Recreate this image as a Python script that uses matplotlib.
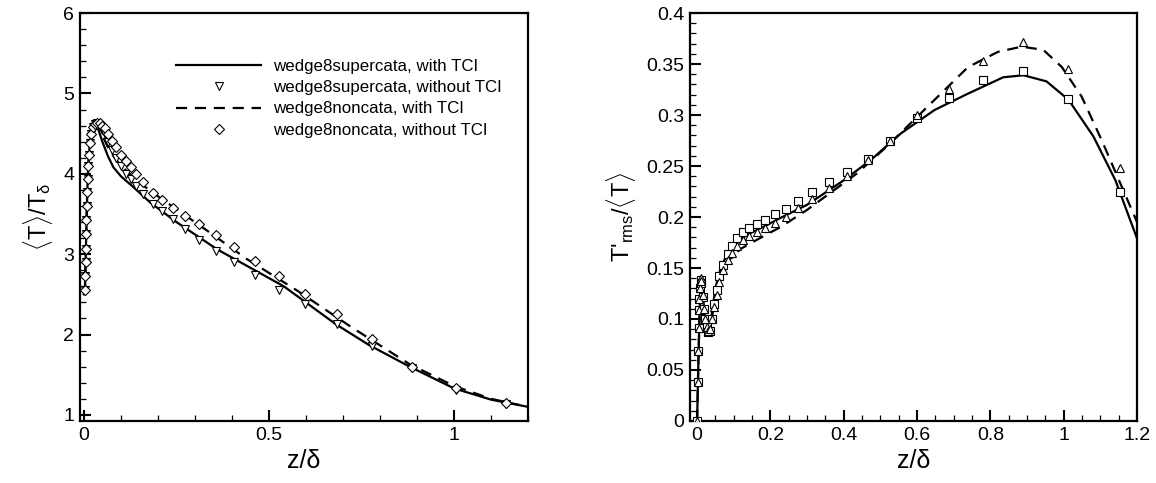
import matplotlib
matplotlib.use("Agg")
import matplotlib.pyplot as plt
from matplotlib.ticker import MultipleLocator

plt.rcParams['font.family'] = ['Liberation Sans', 'DejaVu Sans']
plt.rcParams['mathtext.fontset'] = 'custom'
plt.rcParams['mathtext.rm'] = 'Liberation Sans'
plt.rcParams['mathtext.it'] = 'Liberation Sans:italic'

# ---------------- Left panel data: <T>/T_delta ----------------
zL_solid = [0, 0.003, 0.005, 0.007, 0.009, 0.012, 0.016, 0.02, 0.025, 0.03, 0.035, 0.04,
            0.05, 0.065, 0.08, 0.1, 0.13, 0.18, 0.25, 0.36, 0.45, 0.54, 0.68, 0.77, 0.88,
            1.0, 1.1, 1.2]
TL_solid = [2.5, 2.55, 2.95, 3.35, 3.75, 4.1, 4.38, 4.5, 4.58, 4.62, 4.6, 4.54,
            4.4, 4.22, 4.08, 3.97, 3.85, 3.64, 3.40, 3.06, 2.83, 2.6, 2.13, 1.87, 1.6,
            1.33, 1.19, 1.1]

zL_dash = [0, 0.003, 0.005, 0.007, 0.009, 0.012, 0.016, 0.02, 0.025, 0.03, 0.035, 0.04,
           0.05, 0.07, 0.1, 0.15, 0.2, 0.25, 0.34, 0.44, 0.575, 0.72, 0.88, 1.0,
           1.1, 1.2]
TL_dash = [2.5, 2.55, 2.95, 3.35, 3.75, 4.1, 4.38, 4.5, 4.58, 4.62, 4.62, 4.58,
           4.48, 4.28, 4.1, 3.89, 3.72, 3.56, 3.27, 2.94, 2.55, 2.1, 1.63, 1.36,
           1.2, 1.1]

zL_near = [0.003, 0.004, 0.005, 0.005, 0.006, 0.007, 0.008, 0.009, 0.011, 0.012, 0.014,
           0.016, 0.02, 0.025, 0.03, 0.035]
TL_near = [2.55, 2.73, 2.9, 3.07, 3.25, 3.43, 3.6, 3.77, 3.94, 4.1, 4.24,
           4.38, 4.5, 4.58, 4.62, 4.63]

zL_pts = [0.043, 0.05, 0.057, 0.066, 0.077, 0.088, 0.1, 0.114, 0.126, 0.141, 0.16,
          0.186, 0.212, 0.24, 0.274, 0.312, 0.357, 0.406, 0.463, 0.526, 0.598,
          0.683, 0.778, 0.885, 1.005, 1.14]
TL_diam = [4.63, 4.6, 4.57, 4.49, 4.41, 4.33, 4.24, 4.16, 4.08, 4.0, 3.9,
           3.76, 3.67, 3.58, 3.48, 3.37, 3.24, 3.09, 2.92, 2.73, 2.5,
           2.25, 1.94, 1.6, 1.33, 1.15]
TL_tri = [4.6, 4.55, 4.49, 4.4, 4.3, 4.2, 4.1, 4.0, 3.93, 3.85, 3.75,
          3.63, 3.54, 3.44, 3.31, 3.18, 3.04, 2.9, 2.74, 2.56, 2.38,
          2.13, 1.86, 1.58, 1.31, 1.14]

# ---------------- Right panel data: T'rms/<T> ----------------
zR_solid = [0, 0.003, 0.006, 0.009, 0.012, 0.015, 0.02, 0.025, 0.03, 0.035, 0.04, 0.05,
            0.06, 0.07, 0.085, 0.1, 0.12, 0.15, 0.19, 0.227, 0.3, 0.346, 0.4, 0.474,
            0.556, 0.648, 0.739, 0.835, 0.89, 0.953, 1.013, 1.081, 1.141, 1.2]
TR_solid = [0, 0.05, 0.095, 0.125, 0.14, 0.13, 0.105, 0.09, 0.085, 0.09, 0.105, 0.13,
            0.145, 0.155, 0.165, 0.172, 0.179, 0.185, 0.192, 0.199, 0.212, 0.223, 0.236, 0.256,
            0.282, 0.305, 0.321, 0.337, 0.339, 0.333, 0.315, 0.279, 0.236, 0.179]

zR_dash = [0, 0.003, 0.006, 0.009, 0.012, 0.015, 0.02, 0.025, 0.03, 0.035, 0.04, 0.05,
           0.06, 0.07, 0.085, 0.1, 0.12, 0.15, 0.19, 0.227, 0.3, 0.437, 0.52, 0.611,
           0.739, 0.821, 0.885, 0.944, 0.995, 1.049, 1.104, 1.2]
TR_dash = [0, 0.05, 0.095, 0.125, 0.138, 0.128, 0.103, 0.09, 0.086, 0.09, 0.1, 0.122,
           0.137, 0.148, 0.157, 0.163, 0.169, 0.175, 0.183, 0.19, 0.207, 0.243, 0.27, 0.302,
           0.347, 0.362, 0.367, 0.364, 0.347, 0.318, 0.275, 0.195]

zR_pts = [0.0, 0.002, 0.003, 0.004, 0.005, 0.006, 0.008, 0.01, 0.012, 0.015, 0.018,
          0.022, 0.026, 0.031, 0.036, 0.042, 0.047, 0.054, 0.061, 0.072, 0.083, 0.095,
          0.109, 0.124, 0.142, 0.164, 0.186, 0.212, 0.243, 0.276, 0.314, 0.36, 0.408,
          0.465, 0.527, 0.6, 0.687, 0.78, 0.89, 1.013, 1.153]
TR_sq = [0.0, 0.038, 0.069, 0.091, 0.109, 0.12, 0.13, 0.138, 0.135, 0.122, 0.11,
         0.1, 0.092, 0.087, 0.088, 0.1, 0.115, 0.128, 0.142, 0.153, 0.164, 0.172,
         0.179, 0.185, 0.189, 0.193, 0.197, 0.203, 0.208, 0.216, 0.225, 0.234, 0.244,
         0.257, 0.275, 0.297, 0.317, 0.334, 0.343, 0.316, 0.225]
TR_tri = [0.0, 0.038, 0.069, 0.091, 0.109, 0.12, 0.13, 0.14, 0.137, 0.124, 0.11,
          0.1, 0.092, 0.088, 0.09, 0.1, 0.112, 0.124, 0.136, 0.148, 0.158, 0.165,
          0.172, 0.177, 0.181, 0.185, 0.189, 0.194, 0.2, 0.209, 0.218, 0.228, 0.24,
          0.256, 0.275, 0.3, 0.326, 0.353, 0.372, 0.345, 0.248]

legend_labels = ["wedge8supercata, with TCI", "wedge8supercata, without TCI",
                 "wedge8noncata, with TCI", "wedge8noncata, without TCI"]

fig = plt.figure(figsize=(11.56, 4.83), dpi=100)
axL = fig.add_axes([0.069, 0.1284, 0.388, 0.8446])
axR = fig.add_axes([0.597, 0.1284, 0.3866, 0.8446])

LW = 1.6
dash = (0, (5, 3.5))
mk = dict(linestyle='none', markerfacecolor='white', markeredgecolor='black',
          markeredgewidth=0.8)

# Left
axL.plot(zL_solid, TL_solid, color='black', lw=LW, label=legend_labels[0], zorder=3)
axL.plot(zL_near + zL_pts, TL_near + TL_tri, marker='v', markersize=6,
         label=legend_labels[1], zorder=4, **mk)
axL.plot(zL_dash, TL_dash, color='black', lw=LW, linestyle=dash, label=legend_labels[2], zorder=3)
axL.plot(zL_near + zL_pts, TL_near + TL_diam, marker='D', markersize=5,
         label=legend_labels[3], zorder=4, **mk)
axL.set_xlim(-0.011, 1.2)
axL.set_ylim(0.925, 6)
axL.xaxis.set_minor_locator(MultipleLocator(0.1))
axL.yaxis.set_major_locator(MultipleLocator(1))
axL.yaxis.set_minor_locator(MultipleLocator(0.2))
axL.set_xlabel('z/δ', fontsize=18, labelpad=4)
axL.set_ylabel(r'$\langle\mathrm{T}\rangle/\mathrm{T}_{\mathrm{δ}}$', fontsize=17, labelpad=6)
leg = axL.legend(loc='upper left', bbox_to_anchor=(0.2, 0.905), frameon=False, fontsize=12.2,
                 handlelength=5.0, handletextpad=0.7, labelspacing=0.38, borderaxespad=0)

# Right
axR.plot(zR_solid, TR_solid, color='black', lw=LW, zorder=3)
axR.plot(zR_dash, TR_dash, color='black', lw=LW, linestyle=dash, zorder=3)
axR.plot(zR_pts, TR_sq, marker='s', markersize=6, zorder=4, **mk)
axR.plot(zR_pts, TR_tri, marker='^', markersize=6, zorder=4, **mk)
axR.set_xlim(-0.019, 1.2)
axR.set_ylim(0, 0.4)
axR.xaxis.set_minor_locator(MultipleLocator(0.05))
axR.yaxis.set_minor_locator(MultipleLocator(0.01))
axR.set_xlabel('z/δ', fontsize=18, labelpad=4)
axR.set_ylabel(r"T'$_{\mathrm{rms}}$/$\langle\mathrm{T}\rangle$", fontsize=17, labelpad=6)

for ax in (axL, axR):
    for s in ax.spines.values():
        s.set_linewidth(1.6)
    ax.tick_params(which='both', direction='in', top=False, right=False, labelsize=14)
    ax.tick_params(which='major', length=8, width=1.5, pad=4)
    ax.tick_params(which='minor', length=4, width=0.9)

axL.set_xticks([0, 0.5, 1])
axL.set_xticklabels(['0', '0.5', '1'])
axR.set_xticks([0, 0.2, 0.4, 0.6, 0.8, 1.0, 1.2])
axR.set_xticklabels(['0', '0.2', '0.4', '0.6', '0.8', '1', '1.2'])
axR.set_yticks([0, 0.05, 0.1, 0.15, 0.2, 0.25, 0.3, 0.35, 0.4])
axR.set_yticklabels(['0', '0.05', '0.1', '0.15', '0.2', '0.25', '0.3', '0.35', '0.4'])

fig.savefig('out.png', dpi=100)
